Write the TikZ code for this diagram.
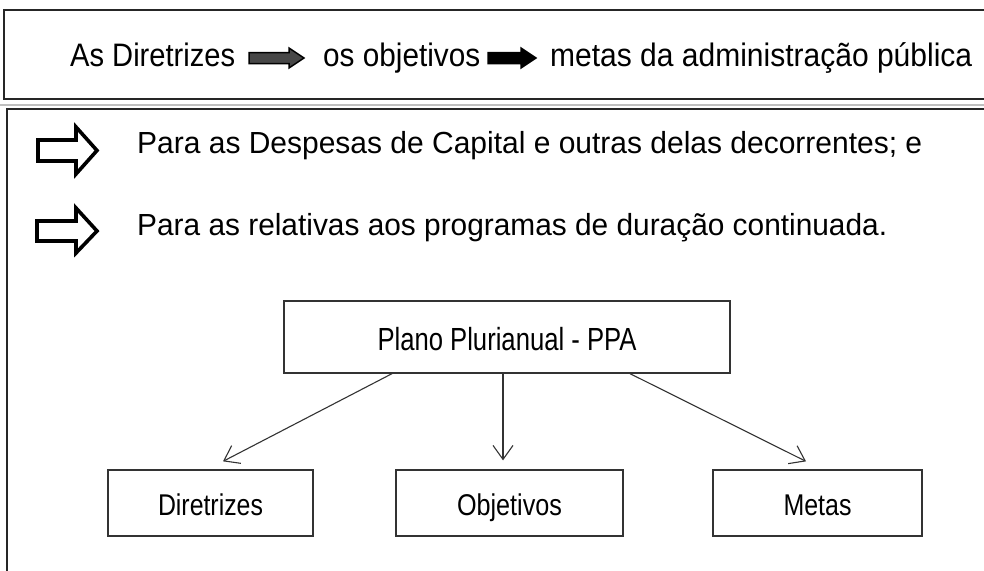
\documentclass[tikz,border=0pt]{standalone}
\usepackage{fontspec}
\setmainfont{Liberation Sans}
\usepackage{graphicx}
\usetikzlibrary{arrows.meta,calc}
\newcommand{\fittext}[3]{\resizebox{#1pt}{\height}{\fontsize{#2}{#2}\selectfont #3}}
\tikzset{
  frame/.style={draw=black!85, line width=1.4pt},
  txt/.style={inner sep=0pt, anchor=base west, text=black},
  box/.style={draw=black!80, line width=1.3pt, inner sep=0pt, fill=white, text=black, text height=26pt, text depth=2pt},
  conn/.style={draw=black!80, line width=1.1pt, -{Straight Barb[length=14pt,width=20pt,line width=1.1pt]}},
  hollow/.style={draw=black, line width=3.6pt, fill=white, line join=miter},
  bigarrow/.style={draw=black, line width=1.5pt, line join=miter}
}
\begin{document}
\begin{tikzpicture}[x=1pt,y=-1pt]
\useasboundingbox (0,0) rectangle (984,570);
\clip (0,0) rectangle (984,570);
\fill[white] (0,0) rectangle (984,570);
% frames
\draw[frame] (990,10) -- (4,10) -- (4,99) -- (990,99);
\draw[black!25, line width=1.2pt] (0,105) -- (984,105);
\draw[frame] (990,109) -- (7,109) -- (7,580);
% top line
\node[txt] (t1) at (70,66) {\fittext{165}{32.5}{As Diretrizes}};
\node[txt] (t2) at (323,66) {\fittext{157}{32.5}{os objetivos}};
\node[txt] (t3) at (550,66) {\fittext{422}{32.5}{metas da administração pública}};
\draw[bigarrow, fill=black!72] (249,52.5) -- (289,52.5) -- (289,48) -- (304,58) -- (289,68) -- (289,63.5) -- (249,63.5) -- cycle;
\draw[bigarrow, fill=black] (488,52.5) -- (521,52.5) -- (521,48) -- (536,58) -- (521,68) -- (521,63.5) -- (488,63.5) -- cycle;
% hollow arrows
\draw[hollow] (38,140) -- (76,140) -- (76,127) -- (97,150.5) -- (76,174) -- (76,161) -- (38,161) -- cycle;
\draw[hollow] (37,221) -- (76,221) -- (76,208) -- (97,231) -- (76,253) -- (76,241) -- (37,241) -- cycle;
\node[txt] (b1) at (137,153) {\fittext{785}{30.5}{Para as Despesas de Capital e outras delas decorrentes; e}};
\node[txt] (b2) at (137,235) {\fittext{750}{30.5}{Para as relativas aos programas de duração continuada.}};
% tree
\node[box, text height=28pt, minimum width=446pt, minimum height=72pt] (ppa) at (507,337) {\fittext{259}{32}{Plano Plurianual - PPA}};
\node[box, minimum width=205pt, minimum height=66pt] (dir) at (210.5,503) {\fittext{105}{30}{Diretrizes}};
\node[box, minimum width=227pt, minimum height=66pt] (obj) at (509.5,503) {\fittext{105}{30}{Objetivos}};
\node[box, minimum width=209pt, minimum height=66pt] (met) at (817.5,503) {\fittext{68}{30}{Metas}};
\draw[conn] ($(ppa.south)+(-115,0)$) -- ($(dir.north)+(12.5,-8)$);
\draw[conn] ($(ppa.south)+(-4,0)$) -- ($(obj.north)+(-6.5,-9)$);
\draw[conn] ($(ppa.south)+(123,0)$) -- ($(met.north)+(-11.5,-8)$);
\end{tikzpicture}
\end{document}
